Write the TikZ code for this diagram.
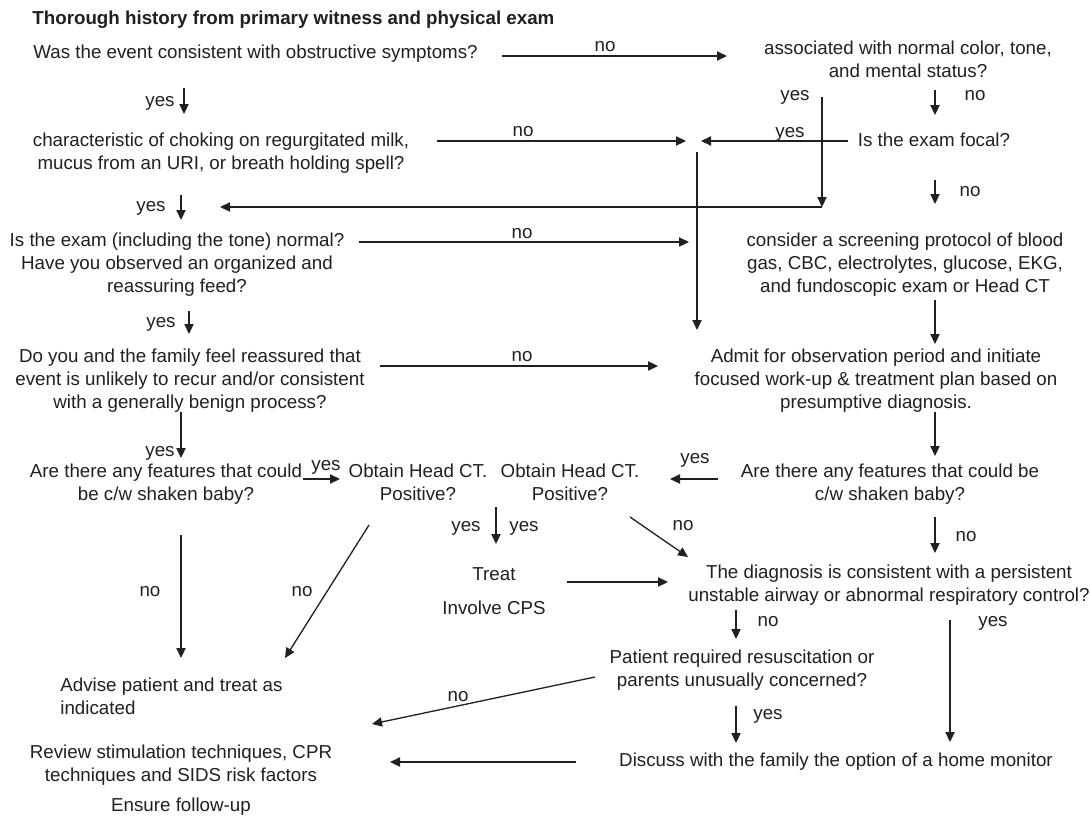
\documentclass[tikz,border=0pt]{standalone}
\usepackage{fontspec}
\setmainfont{Liberation Sans}
\usetikzlibrary{arrows.meta}
\definecolor{ink}{HTML}{231F20}
\newcommand{\mlc}[1]{\begin{tabular}[t]{@{}c@{}}#1\end{tabular}}
\newcommand{\mll}[1]{\begin{tabular}[t]{@{}l@{}}#1\end{tabular}}
\begin{document}
\begin{tikzpicture}[x=0.5pt,y=-0.5pt,
  font=\fontsize{9.375}{11.5}\selectfont,
  txt/.style={inner sep=0pt, anchor=base, text=ink},
  arr/.style={draw=ink, line width=0.65pt, -{Triangle[length=5pt,width=4.6pt]}},
  ln/.style={draw=ink, line width=0.65pt}]
\useasboundingbox (0,0) rectangle (1090,815);
\fill[white] (0,0) rectangle (1090,815);

% ---------- text nodes ----------
\node[txt, anchor=base west, font=\fontsize{9.375}{11.5}\selectfont\bfseries] (title) at (32,24) {Thorough history from primary witness and physical exam};
\node[txt, anchor=base west] (q1) at (33,58) {Was the event consistent with obstructive symptoms?};
\node[txt] (q2) at (908,54) {\mlc{associated with normal color, tone,\\ and mental status?}};
\node[txt] (focal) at (934,146) {Is the exam focal?};
\node[txt] (q3) at (221,146) {\mlc{characteristic of choking on regurgitated milk,\\ mucus from an URI, or breath holding spell?}};
\node[txt] (q4) at (177,246) {\mlc{Is the exam (including the tone) normal?\\ Have you observed an organized and\\ reassuring feed?}};
\node[txt] (q5) at (905,246) {\mlc{consider a screening protocol of blood\\ gas, CBC, electrolytes, glucose, EKG,\\ and fundoscopic exam or Head CT}};
\node[txt] (q6) at (190,362) {\mlc{Do you and the family feel reassured that\\ event is unlikely to recur and/or consistent\\ with a generally benign process?}};
\node[txt] (admit) at (876,362) {\mlc{Admit for observation period and initiate\\ focused work-up \& treatment plan based on\\ presumptive diagnosis.}};
\node[txt] (q8) at (166,477) {\mlc{Are there any features that could\\ be c/w shaken baby?}};
\node[txt] (h1) at (418,477) {\mlc{Obtain Head CT.\\ Positive?}};
\node[txt] (h2) at (570,477) {\mlc{Obtain Head CT.\\ Positive?}};
\node[txt] (q9) at (890,477) {\mlc{Are there any features that could be\\ c/w shaken baby?}};
\node[txt] (treat) at (494,580) {Treat};
\node[txt] (cps) at (494,614) {Involve CPS};
\node[txt] (q10) at (889,578) {\mlc{The diagnosis is consistent with a persistent\\ unstable airway or abnormal respiratory control?}};
\node[txt] (q11) at (742,663) {\mlc{Patient required resuscitation or\\ parents unusually concerned?}};
\node[txt, anchor=base west] (advise) at (60,691) {\mll{Advise patient and treat as\\ indicated}};
\node[txt] (review) at (181,758) {\mlc{Review stimulation techniques, CPR\\ techniques and SIDS risk factors}};
\node[txt] (discuss) at (836,766) {Discuss with the family the option of a home monitor};
\node[txt] (ensure) at (181,811) {Ensure follow-up};

% ---------- labels ----------
\node[txt] (l1) at (605,51) {no};
\node[txt] (l0) at (160,106) {yes};
\node[txt] (l2) at (795,100) {yes};
\node[txt] (l3) at (975,100) {no};
\node[txt] (l4) at (790,137) {yes};
\node[txt] (l5) at (523,136) {no};
\node[txt] (l6) at (151,211) {yes};
\node[txt] (l7) at (970,196) {no};
\node[txt] (l8) at (522,238) {no};
\node[txt] (l9) at (161,327) {yes};
\node[txt] (l10) at (522,361) {no};
\node[txt] (l11) at (160,456) {yes};
\node[txt] (l12) at (326,470) {yes};
\node[txt] (l13) at (695,463) {yes};
\node[txt] (l14) at (966,541) {no};
\node[txt] (l15) at (466,531) {yes};
\node[txt] (l16) at (524,531) {yes};
\node[txt] (l17) at (150,596) {no};
\node[txt] (l18) at (302,596) {no};
\node[txt] (l19) at (683,530) {no};
\node[txt] (l20) at (768,626) {no};
\node[txt] (l21) at (993,626) {yes};
\node[txt] (l22) at (458,701) {no};
\node[txt] (l23) at (768,719) {yes};

% ---------- connector end points ----------
\coordinate (a1s) at (502,56);   \coordinate (a1e) at (727,56);
\coordinate (a0s) at (184,88);   \coordinate (a0e) at (184,114);
\coordinate (a2s) at (822,97);   \coordinate (a2e) at (822,207);
\coordinate (a3e) at (220,207);
\coordinate (a4s) at (935,90);   \coordinate (a4e) at (935,115);
\coordinate (a5s) at (848,141);  \coordinate (a5e) at (701,141);
\coordinate (a6s) at (437,141);  \coordinate (a6e) at (686,141);
\coordinate (a7s) at (697,152);  \coordinate (a7e) at (697,330);
\coordinate (a8s) at (181,195);  \coordinate (a8e) at (181,220);
\coordinate (a9s) at (935,180);  \coordinate (a9e) at (935,204);
\coordinate (a10s) at (359,242); \coordinate (a10e) at (689,242);
\coordinate (a11s) at (189,311); \coordinate (a11e) at (189,334);
\coordinate (a12s) at (935,300); \coordinate (a12e) at (935,344);
\coordinate (a13s) at (380,366); \coordinate (a13e) at (658,366);
\coordinate (a14s) at (935,412); \coordinate (a14e) at (935,456);
\coordinate (a15s) at (181,412); \coordinate (a15e) at (181,458);
\coordinate (a16s) at (303,479); \coordinate (a16e) at (340,479);
\coordinate (a17s) at (718,479); \coordinate (a17e) at (670,479);
\coordinate (a18s) at (935,517); \coordinate (a18e) at (935,553);
\coordinate (a19s) at (496,507); \coordinate (a19e) at (496,544);
\coordinate (a20s) at (181,535); \coordinate (a20e) at (181,658);
\coordinate (a21s) at (369,525); \coordinate (a21e) at (285,658);
\coordinate (a22s) at (630,517); \coordinate (a22e) at (688,557);
\coordinate (a23s) at (567,582); \coordinate (a23e) at (668,582);
\coordinate (a24s) at (736,610); \coordinate (a24e) at (736,639);
\coordinate (a25s) at (950,620); \coordinate (a25e) at (950,742);
\coordinate (a26s) at (595,677); \coordinate (a26e) at (372,724);
\coordinate (a27s) at (736,706); \coordinate (a27e) at (736,743);
\coordinate (a28s) at (576,762); \coordinate (a28e) at (390,762);

% ---------- connectors ----------
\draw[arr] (a1s) -- (a1e);
\draw[arr] (a0s) -- (a0e);
\draw[arr] (a2s) -- (a2e);
\draw[arr] (a2e) -- (a3e);
\draw[arr] (a4s) -- (a4e);
\draw[arr] (a5s) -- (a5e);
\draw[arr] (a6s) -- (a6e);
\draw[arr] (a7s) -- (a7e);
\draw[arr] (a8s) -- (a8e);
\draw[arr] (a9s) -- (a9e);
\draw[arr] (a10s) -- (a10e);
\draw[arr] (a11s) -- (a11e);
\draw[arr] (a12s) -- (a12e);
\draw[arr] (a13s) -- (a13e);
\draw[arr] (a14s) -- (a14e);
\draw[arr] (a15s) -- (a15e);
\draw[arr] (a16s) -- (a16e);
\draw[arr] (a17s) -- (a17e);
\draw[arr] (a18s) -- (a18e);
\draw[arr] (a19s) -- (a19e);
\draw[arr] (a20s) -- (a20e);
\draw[arr] (a21s) -- (a21e);
\draw[arr] (a22s) -- (a22e);
\draw[arr] (a23s) -- (a23e);
\draw[arr] (a24s) -- (a24e);
\draw[arr] (a25s) -- (a25e);
\draw[arr] (a26s) -- (a26e);
\draw[arr] (a27s) -- (a27e);
\draw[arr] (a28s) -- (a28e);
\end{tikzpicture}
\end{document}
